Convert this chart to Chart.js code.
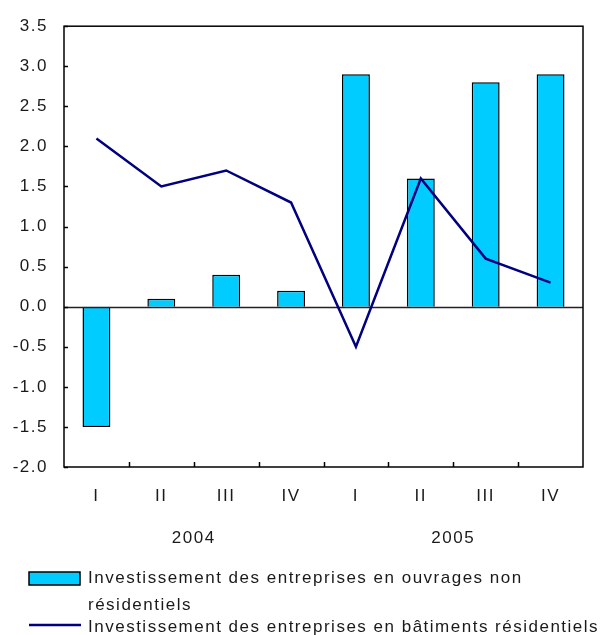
<!DOCTYPE html>
<html>
<head>
<meta charset="utf-8">
<script src="https://cdn.jsdelivr.net/npm/chart.js@4"></script>
<style>
  html, body { margin: 0; padding: 0; background: #fff; }
  #wrap { position: relative; width: 605px; height: 635px; }
</style>
</head>
<body>
<div id="wrap"><canvas id="chart" width="605" height="635"></canvas></div>
<script>
// Data
const quarters = ['I', 'II', 'III', 'IV', 'I', 'II', 'III', 'IV'];
const years = ['2004', '2005'];
const nonResidential = [-1.5, 0.1, 0.4, 0.2, 2.9, 1.6, 2.8, 2.9];
const residential = [2.1, 1.5, 1.7, 1.3, -0.5, 1.6, 0.6, 0.3];
const seriesLabels = [
  'Investissement des entreprises en ouvrages non résidentiels',
  'Investissement des entreprises en bâtiments résidentiels'
];

const FONT = 'Arial, "Liberation Sans", sans-serif';
const TEXT_COLOR = '#1a1a1a';
const BAR_COLOR = '#00CCFF';
const LINE_COLOR = '#000080';
const SPACING = '1.5px';

// wider letter spacing, like the original's text
const spacing = {
  id: 'spacing',
  beforeDraw(chart) {
    chart.ctx.letterSpacing = SPACING;
  }
};

// zero line over the bars but under the line series
const zeroLine = {
  id: 'zeroLine',
  beforeDatasetDraw(chart, args) {
    if (args.index !== 0) return;
    const { ctx, chartArea: a, scales } = chart;
    const py = Math.round(scales.y.getPixelForValue(0)) + 0.5;
    ctx.save();
    ctx.strokeStyle = '#222';
    ctx.lineWidth = 1.5;
    ctx.beginPath();
    ctx.moveTo(a.left, py);
    ctx.lineTo(a.right, py);
    ctx.stroke();
    ctx.restore();
  }
};

// frame, inside tick marks, year labels and legend
const decorations = {
  id: 'decorations',
  afterDatasetsDraw(chart) {
    const { ctx, chartArea: a, scales } = chart;
    const x = scales.x, y = scales.y;
    ctx.save();
    ctx.letterSpacing = SPACING;
    ctx.strokeStyle = '#000';
    ctx.lineWidth = 1.5;
    ctx.strokeRect(a.left, a.top, a.right - a.left, a.bottom - a.top);

    // y tick marks, inside
    ctx.beginPath();
    y.ticks.forEach(t => {
      const py = Math.round(y.getPixelForValue(t.value)) + 0.5;
      ctx.moveTo(a.left, py);
      ctx.lineTo(a.left + 4, py);
    });
    // x tick marks between categories, inside
    for (let i = 0; i < quarters.length - 1; i++) {
      const px = Math.round((x.getPixelForValue(i) + x.getPixelForValue(i + 1)) / 2) + 0.5;
      ctx.moveTo(px, a.bottom);
      ctx.lineTo(px, a.bottom - 5);
    }
    ctx.stroke();

    // year labels under each group of four quarters
    ctx.fillStyle = TEXT_COLOR;
    ctx.font = '17px ' + FONT;
    ctx.textAlign = 'center';
    ctx.textBaseline = 'middle';
    years.forEach((yr, i) => {
      const cx = (x.getPixelForValue(i * 4) + x.getPixelForValue(i * 4 + 3)) / 2;
      ctx.fillText(yr, cx, 538);
    });

    // legend
    ctx.textAlign = 'left';
    const textX = 88, maxW = 512;
    ctx.fillStyle = BAR_COLOR;
    ctx.fillRect(29, 572, 51, 13);
    ctx.strokeStyle = '#000';
    ctx.lineWidth = 1.5;
    ctx.strokeRect(29, 572, 51, 13);
    ctx.fillStyle = TEXT_COLOR;
    let lineY = 578;
    wrapText(ctx, seriesLabels[0], maxW).forEach(l => {
      ctx.fillText(l, textX, lineY);
      lineY += 27;
    });
    ctx.strokeStyle = LINE_COLOR;
    ctx.lineWidth = 2.5;
    ctx.beginPath();
    ctx.moveTo(29, 625);
    ctx.lineTo(81, 625);
    ctx.stroke();
    ctx.fillText(seriesLabels[1], textX, 627);
    ctx.restore();
  }
};

function wrapText(ctx, text, maxW) {
  const words = text.split(' ');
  const lines = [];
  let cur = '';
  words.forEach(w => {
    const test = cur ? cur + ' ' + w : w;
    if (ctx.measureText(test).width > maxW && cur) {
      lines.push(cur);
      cur = w;
    } else {
      cur = test;
    }
  });
  if (cur) lines.push(cur);
  return lines;
}

const ctx = document.getElementById('chart').getContext('2d');
new Chart(ctx, {
  data: {
    labels: quarters,
    datasets: [
      {
        type: 'line',
        label: seriesLabels[1],
        data: residential,
        borderColor: LINE_COLOR,
        backgroundColor: LINE_COLOR,
        borderWidth: 2.5,
        pointRadius: 0,
        tension: 0,
        order: 0
      },
      {
        type: 'bar',
        label: seriesLabels[0],
        data: nonResidential,
        backgroundColor: BAR_COLOR,
        borderColor: '#000',
        borderWidth: 1.5,
        borderSkipped: 'start',
        barPercentage: 0.43,
        categoryPercentage: 1,
        order: 1
      }
    ]
  },
  options: {
    responsive: false,
    animation: false,
    layout: { padding: { top: 19, right: 22, left: 0, bottom: 0 } },
    plugins: {
      legend: { display: false },
      tooltip: { enabled: false }
    },
    scales: {
      x: {
        offset: true,
        grid: { display: false, drawTicks: false },
        border: { display: false },
        ticks: {
          color: TEXT_COLOR,
          font: { family: FONT, size: 17 },
          padding: 19,
          maxRotation: 0,
          autoSkip: false
        },
        afterFit(scale) { scale.height = 168; }
      },
      y: {
        min: -2,
        max: 3.5,
        grid: { display: false, drawTicks: false },
        border: { display: false },
        ticks: {
          stepSize: 0.5,
          color: TEXT_COLOR,
          font: { family: FONT, size: 17 },
          padding: 16,
          callback: v => v.toFixed(1)
        },
        afterFit(scale) { scale.width = 64; }
      }
    }
  },
  plugins: [spacing, zeroLine, decorations]
});
</script>
</body>
</html>
